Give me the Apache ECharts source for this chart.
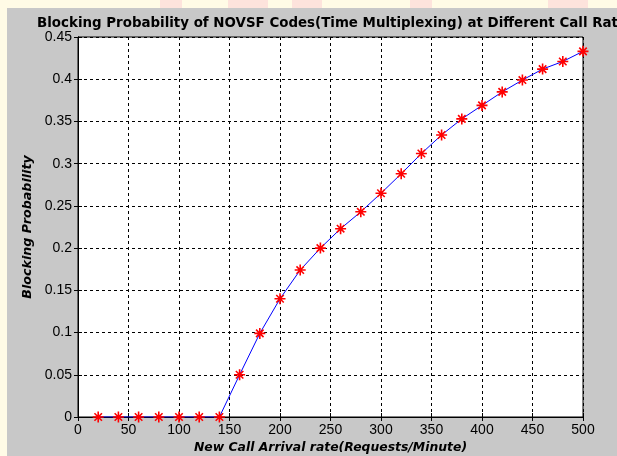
<!DOCTYPE html>
<html>
<head>
<meta charset="utf-8">
<script src="https://cdn.jsdelivr.net/npm/echarts@6/dist/echarts.min.js"></script>
<style>
html,body{margin:0;padding:0;background:#fffbe6;}
#chart{width:617px;height:456px;}
</style>
</head>
<body>
<div id="chart"></div>
<script>
var titleText = 'Blocking Probability of NOVSF Codes(Time Multiplexing) at Different Call Rates';
var xName = 'New Call Arrival rate(Requests/Minute)';
var yName = 'Blocking Probability';
var arrivalRates = [20,40,60,80,100,120,140,160,180,200,220,240,260,280,300,320,340,360,380,400,420,440,460,480,500];
var blockingProb = [0,0,0,0,0,0,0,0.05,0.099,0.14,0.174,0.2,0.223,0.243,0.265,0.288,0.312,0.334,0.353,0.369,0.385,0.399,0.412,0.421,0.433];

var chart = echarts.init(document.getElementById('chart'));
var data = arrivalRates.map(function(x,i){return [x, blockingProb[i]];});
var fontFam = '"Liberation Sans", Arial, sans-serif';
var boldFam = '"DejaVu Sans", sans-serif';
var asterisk = 'path://M0 5 L10 5 M5 0 L5 10 M1.6 1.6 L8.4 8.4 M8.4 1.6 L1.6 8.4';

chart.setOption({
  backgroundColor: '#fffbe6',
  animation: false,
  graphic: [
    {type:'rect', shape:{x:7,y:8,width:610,height:448}, style:{fill:'#c8c8c8'}, z:-10},
    {type:'rect', shape:{x:160,y:0,width:22,height:8}, style:{fill:'#fde3dc'}, z:-10},
    {type:'rect', shape:{x:228,y:0,width:40,height:8}, style:{fill:'#fde3dc'}, z:-10},
    {type:'rect', shape:{x:292,y:0,width:30,height:8}, style:{fill:'#fde3dc'}, z:-10},
    {type:'rect', shape:{x:410,y:0,width:22,height:8}, style:{fill:'#fde3dc'}, z:-10},
    {type:'rect', shape:{x:548,y:0,width:40,height:8}, style:{fill:'#fde3dc'}, z:-10}
  ],
  title: {
    text: titleText,
    left: 331, top: 12, textAlign: 'center',
    textStyle: {fontFamily: boldFam, fontWeight: 'bold', fontSize: 13.4, color: '#000'}
  },
  grid: {left: 78, right: 34, top: 37, bottom: 39, show: true, backgroundColor: '#fff', borderColor: '#000', borderWidth: 1,
    outerBoundsMode: 'none', containLabel: false},
  xAxis: [{
    type: 'value', min: 0, max: 500, interval: 50,
    name: xName, nameLocation: 'middle', nameGap: 25,
    nameTextStyle: {fontFamily: boldFam, fontWeight: 'bold', fontStyle: 'italic', fontSize: 12.4, color: '#000'},
    axisLine: {show: true, lineStyle: {color: '#000', width: 1}},
    axisTick: {show: true, inside: true, length: 4, lineStyle: {color: '#000'}},
    axisLabel: {fontFamily: fontFam, fontSize: 14, color: '#000', margin: 6},
    splitLine: {show: true, lineStyle: {color: '#000', type: [3,3], width: 1}}
  },{
    type: 'value', min: 0, max: 500, interval: 50, position: 'top',
    axisLine: {show: true, lineStyle: {color: '#000'}},
    axisTick: {show: true, inside: true, length: 4, lineStyle: {color: '#000'}},
    axisLabel: {show: false}, splitLine: {show: false}
  }],
  yAxis: [{
    type: 'value', min: 0, max: 0.45, interval: 0.05,
    name: yName, nameLocation: 'middle', nameGap: 44,
    nameTextStyle: {fontFamily: boldFam, fontWeight: 'bold', fontStyle: 'italic', fontSize: 12.7, color: '#000'},
    axisLine: {show: true, lineStyle: {color: '#000', width: 1}},
    axisTick: {show: true, inside: true, length: 4, lineStyle: {color: '#000'}},
    axisLabel: {fontFamily: fontFam, fontSize: 14, color: '#000', margin: 6,
      formatter: function(v){return String(Math.round(v*100)/100);}},
    splitLine: {show: true, lineStyle: {color: '#000', type: [3,3], width: 1}}
  },{
    type: 'value', min: 0, max: 0.45, interval: 0.05, position: 'right',
    axisLine: {show: true, lineStyle: {color: '#000'}},
    axisTick: {show: true, inside: true, length: 4, lineStyle: {color: '#000'}},
    axisLabel: {show: false}, splitLine: {show: false}
  }],
  series: [{
    type: 'line', data: data, xAxisIndex: 0, yAxisIndex: 0,
    lineStyle: {color: '#0000ff', width: 1},
    symbol: asterisk, symbolSize: 11,
    itemStyle: {color: 'rgba(0,0,0,0)', borderColor: '#ff0000', borderWidth: 1.6},
    z: 5
  }]
});
</script>
</body>
</html>
